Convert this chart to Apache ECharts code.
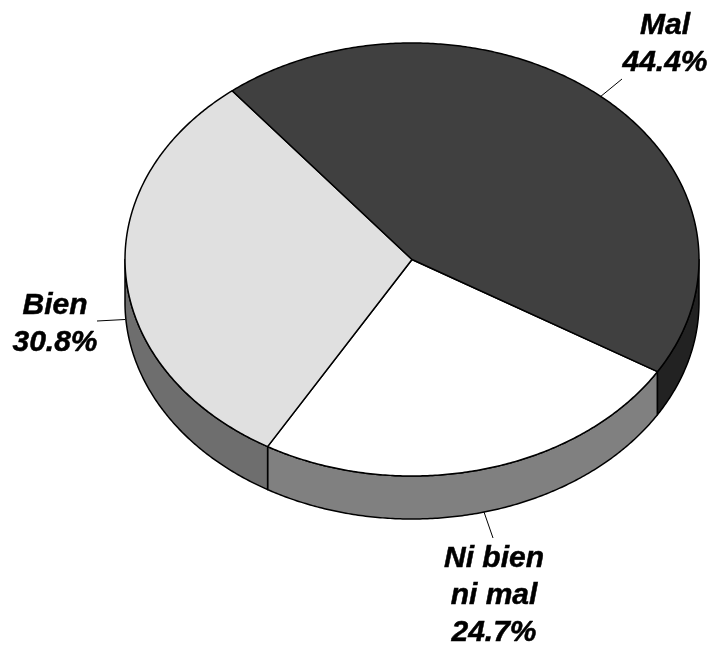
<!DOCTYPE html>
<html>
<head>
<meta charset="utf-8">
<style>html,body{margin:0;padding:0;background:#fff}#c{width:708px;height:647px}</style>
<script src="https://cdn.jsdelivr.net/npm/echarts@6/dist/echarts.min.js"></script>
</head>
<body>
<div id="c"></div>
<script>
const categories = ['Ni bien\nni mal', 'Bien', 'Mal'];
const shares = [24.7, 30.8, 44.4];
const shareLabels = ['24.7%', '30.8%', '44.4%'];

const topColors = ['#ffffff', '#e0e0e0', '#404040'];
const sideColors = ['#808080', '#6e6e6e', '#222222'];
const geom = { cx: 412, cy: 259.5, rx: 287, ry: 216.5, depth: 43, startDeg: 31.2 };
const labelPlace = [
  { x: 494, y: 540, line: [484, 512, 493, 538] },
  { x: 55, y: 287, line: [125, 319.5, 97, 321] },
  { x: 665, y: 7, line: [600, 97, 622, 79] }
];
const total = shares.reduce((a, b) => a + b, 0);

function rim(deg, dy) {
  const t = deg * Math.PI / 180;
  return [geom.cx + geom.rx * Math.cos(t), geom.cy + geom.ry * Math.sin(t) + dy];
}
function arcPts(a, b, dy) {
  const n = Math.max(2, Math.ceil(Math.abs(b - a) * 2));
  const out = [];
  for (let i = 0; i <= n; i++) out.push(rim(a + (b - a) * i / n, dy));
  return out;
}
function sectorRange(i) {
  let s = 0;
  for (let k = 0; k < i; k++) s += shares[k];
  const a = geom.startDeg + s / total * 360;
  return [a, a + shares[i] / total * 360];
}
const edge = { stroke: '#000', lineWidth: 1.5, lineJoin: 'round' };

function renderItem(params, api) {
  const i = params.dataIndex;
  const [a, b] = sectorRange(i);
  const children = [];
  // visible side wall: parts of the sector in the front half of the ellipse
  [[0, 180], [360, 540]].forEach(([lo, hi]) => {
    const s = Math.max(a, lo), e = Math.min(b, hi);
    if (e > s) {
      const pts = arcPts(s, e, 0).concat(arcPts(e, s, geom.depth));
      children.push({ type: 'polygon', shape: { points: pts },
        style: Object.assign({ fill: sideColors[i] }, edge), z2: 1 });
    }
  });
  children.push({ type: 'polygon',
    shape: { points: [[geom.cx, geom.cy]].concat(arcPts(a, b, 0)) },
    style: Object.assign({ fill: topColors[i] }, edge), z2: 2 });
  const p = labelPlace[i];
  children.push({ type: 'line',
    shape: { x1: p.line[0], y1: p.line[1], x2: p.line[2], y2: p.line[3] },
    style: { stroke: '#000', lineWidth: 1 }, z2: 3 });
  children.push({ type: 'text', z2: 4, style: {
    x: p.x, y: p.y, text: categories[i] + '\n' + shareLabels[i],
    align: 'center', verticalAlign: 'top',
    font: 'italic bold 30px "Liberation Sans", Arial, sans-serif',
    lineHeight: 37, fill: '#000', stroke: '#000', lineWidth: 0.5
  } });
  return { type: 'group', children };
}

const chart = echarts.init(document.getElementById('c'), null, { renderer: 'canvas' });
chart.setOption({
  animation: false,
  backgroundColor: '#fff',
  series: [{
    type: 'custom',
    coordinateSystem: 'none',
    data: shares.map((v, i) => ({ name: categories[i], value: v })),
    renderItem
  }]
});
</script>
</body>
</html>
